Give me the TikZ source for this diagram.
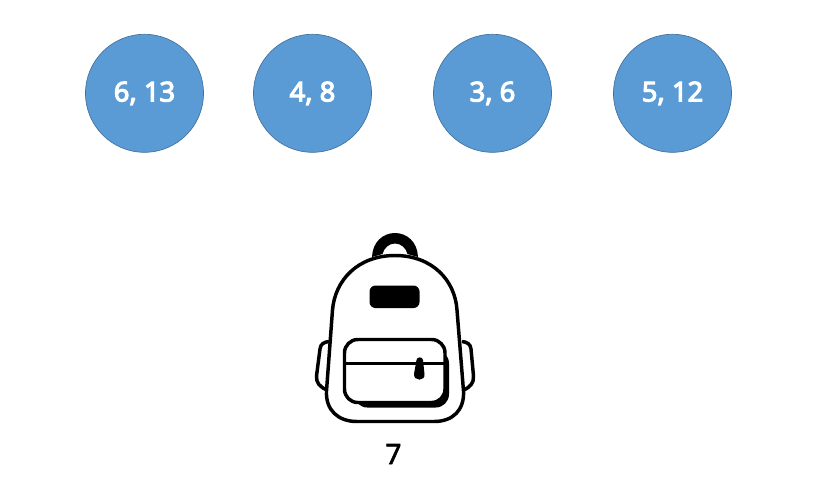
\documentclass[tikz,border=0pt]{standalone}
\usepackage{fontspec}
\setmainfont{Noto Sans}
\newfontfamily\itemfont[FakeBold=4]{Noto Sans}
\newfontfamily\weightfont[FakeBold=2]{Noto Sans}
\definecolor{itemfill}{HTML}{5B9BD5}
\definecolor{itemline}{HTML}{41719C}
\tikzset{
  item/.style={circle, draw=itemline, fill=itemfill, line width=0.5pt, minimum size=88.5pt, inner sep=0pt, text=white, font=\fontsize{20.5}{24}\itemfont},
  bagline/.style={line width=2.6pt, line join=round}
}

\begin{document}
\begin{tikzpicture}[x=0.75pt, y=-0.75pt]
    \useasboundingbox (0,0) rectangle (821,487);

    % Nodes
    \node[item] (A) at (144.5,93.3) {6, 13};
    \node[item] (B) at (312.5,93.3) {4, 8};
    \node[item] (C) at (492.5,93.3) {3, 6};
    \node[item] (D) at (672.5,93.3) {5, 12};
    \node[font=\fontsize{21}{24}\weightfont] (W) at (393.5,454) {7};

    % Handle
    \fill (372,257) .. controls (372.5,242) and (383,233) .. (395,233) .. controls (407,233) and (417.5,242) .. (418,257)
      -- (407.5,254) .. controls (406,248) and (401,243.5) .. (395,243.5) .. controls (389,243.5) and (384,248) .. (382.5,254) -- cycle;

    % Side pads
    \draw[bagline, fill=white] (329,341.5) .. controls (324,342) and (320.5,344) .. (320,349) -- (316.5,376) .. controls (316,383) and (320,387) .. (327,390);
    \draw[bagline, fill=white] (462,341.5) .. controls (467,342) and (470.5,344) .. (471,349) -- (473.5,376) .. controls (474,383) and (470,387) .. (464,390);

    % Body
    \draw[bagline, fill=white] (395,255.5) .. controls (358,255.5) and (335,280) .. (332.5,310)
      -- (326.5,391) .. controls (325.5,410) and (338,421.5) .. (357,421.5)
      -- (434,421.5) .. controls (453,421.5) and (464.5,410) .. (463.5,391)
      -- (457,310) .. controls (455,280) and (432,255.5) .. (395,255.5) -- cycle;

    % Label patch
    \fill[rounded corners=4.5pt] (369.5,285.5) rectangle (419.5,308);

    % Pocket
    \fill[rounded corners=10pt] (354,350) rectangle (449,407.5);
    \draw[bagline, fill=white, rounded corners=10pt] (344.5,339.5) rectangle (445,402.5);
    \draw[bagline] (344.5,363.5) -- (445,363.5);

    % Zipper
    \fill (416.5,360) .. controls (416.5,356.5) and (423,356.5) .. (423,360) -- (424.5,374) .. controls (425.5,381.5) and (413.5,381.5) .. (414,374) -- cycle;
\end{tikzpicture}
\end{document}
